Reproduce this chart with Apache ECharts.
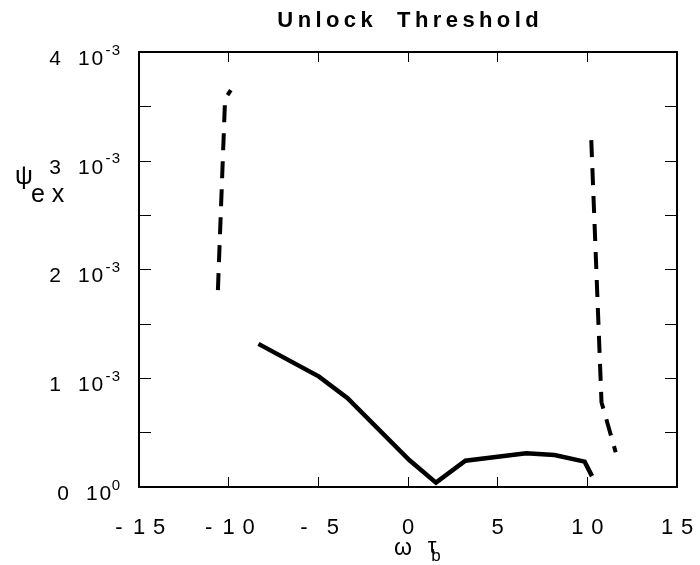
<!DOCTYPE html>
<html>
<head>
<meta charset="utf-8">
<script src="https://cdn.jsdelivr.net/npm/echarts@6/dist/echarts.min.js"></script>
<style>html,body{margin:0;padding:0;background:#fff}#c{width:700px;height:565px}</style>
</head>
<body>
<div id="c"></div>
<script>
// Data
var xTicks = [-15, -10, -5, 0, 5, 10, 15];
var yTicks = [0, 0.001, 0.002, 0.003, 0.004];
var titleText = 'Unlock Threshold';

// solid curve
var solidX = [-8.34, -4.96, -3.37, 0.07, 1.56, 3.2, 6.59, 8.17, 9.85, 10.26];
var solidY = [0.001316, 0.001015, 0.000816, 0.000248, 0.00004, 0.000242, 0.00031, 0.000294, 0.000233, 0.0001];

// left dashed branch
var dashLX = [-10.6, -10.2, -9.88];
var dashLY = [0.00181, 0.00357, 0.00365];

// right dashed branch
var dashRX = [10.22, 10.79, 11.58];
var dashRY = [0.00319, 0.00078, 0.00032];

function pairs(xs, ys) { return xs.map(function (x, i) { return [x, ys[i]]; }); }

var FONT = '"Liberation Sans", Arial, Helvetica, sans-serif';

function tok(name, s) {
  return s.split('').map(function (ch) { return '{' + name + '|' + ch + '}'; }).join('');
}
function xLabel(v) {
  var s = String(v);
  if (s.length === 2 && s[0] === '-') return '{c|-}{g| }{c|' + s[1] + '}';
  return tok('c', s);
}
function yLabel(v) {
  var m = Math.round(v * 1000);
  var sup = m === 0 ? '0' : '-3';
  return '{m|' + m + '}{sp| }' + tok('d', '10') + tok('s', sup);
}
function titleRich(s) {
  return s.split('').map(function (ch) { return ch === ' ' ? '{w| }' : '{t|' + ch + '}'; }).join('');
}

var axisLineStyle = { color: '#000', width: 2 };
var tickStyle = { color: '#000', width: 1 };

var chart = echarts.init(document.getElementById('c'), null, { renderer: 'canvas' });
chart.setOption({
  animation: false,
  backgroundColor: '#fff',
  grid: { left: 139, right: 23, top: 52, bottom: 78, containLabel: false },
  xAxis: [
    {
      type: 'value', min: xTicks[0], max: xTicks[xTicks.length - 1], interval: 5, position: 'bottom',
      axisLine: { onZero: false, lineStyle: axisLineStyle },
      axisTick: { inside: true, length: 10, lineStyle: tickStyle },
      axisLabel: {
        margin: 30, fontSize: 22, fontFamily: FONT, color: '#000', formatter: xLabel,
        rich: {
          c: { fontSize: 22, fontFamily: FONT, color: '#000', width: 20, align: 'center' },
          g: { fontSize: 22, fontFamily: FONT, width: 9 }
        }
      },
      splitLine: { show: false }
    },
    {
      type: 'value', min: xTicks[0], max: xTicks[xTicks.length - 1], interval: 5, position: 'top',
      axisLine: { onZero: false, lineStyle: axisLineStyle },
      axisTick: { inside: true, length: 10, lineStyle: tickStyle },
      axisLabel: { show: false },
      splitLine: { show: false }
    }
  ],
  yAxis: [
    {
      type: 'value', min: yTicks[0], max: yTicks[yTicks.length - 1], interval: 0.001, position: 'left',
      axisLine: { onZero: false, lineStyle: axisLineStyle },
      axisTick: { inside: true, length: 12, lineStyle: tickStyle },
      minorTick: { show: true, splitNumber: 2, length: 12, lineStyle: tickStyle },
      axisLabel: {
        margin: 19, color: '#000', fontSize: 21, fontFamily: FONT, formatter: yLabel,
        padding: [14, 0, 0, 0],
        rich: {
          m: { fontSize: 21, fontFamily: FONT, color: '#000', lineHeight: 32, width: 14, align: 'center' },
          sp: { fontSize: 21, fontFamily: FONT, width: 15, lineHeight: 32 },
          d: { fontSize: 21, fontFamily: FONT, color: '#000', lineHeight: 32, width: 13.5, align: 'center' },
          s: { fontSize: 15, fontFamily: FONT, color: '#000', lineHeight: 14, verticalAlign: 'top', width: 8, align: 'center' }
        }
      },
      splitLine: { show: false }
    },
    {
      type: 'value', min: yTicks[0], max: yTicks[yTicks.length - 1], interval: 0.001, position: 'right',
      axisLine: { onZero: false, lineStyle: axisLineStyle },
      axisTick: { inside: true, length: 12, lineStyle: tickStyle },
      minorTick: { show: true, splitNumber: 2, length: 12, lineStyle: tickStyle },
      axisLabel: { show: false },
      splitLine: { show: false }
    }
  ],
  graphic: [
    {
      type: 'text', x: 408, y: 21,
      style: {
        text: titleRich(titleText), textAlign: 'center', textVerticalAlign: 'middle', fill: '#000',
        rich: {
          t: { fontSize: 22, fontWeight: 'bold', fontFamily: FONT, color: '#000', padding: [0, 2.2, 0, 2.2] },
          w: { fontSize: 22, fontWeight: 'bold', fontFamily: FONT, width: 20 }
        }
      }
    },
    { type: 'text', x: 24, y: 177, style: { text: 'ψ', textAlign: 'center', textVerticalAlign: 'middle', font: '25px ' + FONT, fill: '#000' } },
    { type: 'text', x: 31, y: 195, style: { text: 'e x', textAlign: 'left', textVerticalAlign: 'middle', font: '25px ' + FONT, fill: '#000' } },
    { type: 'text', x: 403, y: 549, style: { text: 'ω', textAlign: 'center', textVerticalAlign: 'middle', font: '23px ' + FONT, fill: '#000' } },
    { type: 'text', x: 432, y: 547, style: { text: 'τ', textAlign: 'center', textVerticalAlign: 'middle', font: '22px ' + FONT, fill: '#000' } },
    { type: 'text', x: 436, y: 556, style: { text: 'b', textAlign: 'center', textVerticalAlign: 'middle', font: '17px ' + FONT, fill: '#000' } }
  ],
  series: [
    {
      type: 'line', xAxisIndex: 0, yAxisIndex: 0, data: pairs(solidX, solidY),
      showSymbol: false, symbol: 'none', silent: true,
      lineStyle: { color: '#000', width: 4.5, join: 'miter' }
    },
    {
      type: 'line', xAxisIndex: 0, yAxisIndex: 0, data: pairs(dashLX, dashLY),
      showSymbol: false, symbol: 'none', silent: true,
      lineStyle: { color: '#000', width: 4, type: [17, 11] }
    },
    {
      type: 'line', xAxisIndex: 0, yAxisIndex: 0, data: pairs(dashRX, dashRY),
      showSymbol: false, symbol: 'none', silent: true,
      lineStyle: { color: '#000', width: 4, type: [17, 11] }
    }
  ]
});
</script>
</body>
</html>
